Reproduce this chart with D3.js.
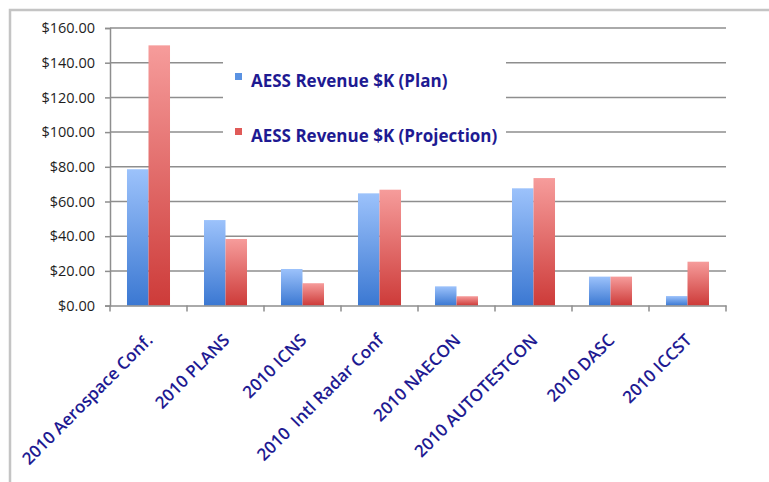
<!DOCTYPE html>
<html>
<head>
  <meta charset="utf-8">
  <title>AESS Revenue</title>
  <script src="https://cdn.jsdelivr.net/npm/d3@7"></script>
  <style>
    body { margin: 0; background: #fff; }
    text { font-family: "Open Sans", "Liberation Sans", sans-serif; }
  </style>
</head>
<body>
<script>
  var width = 769;
  var height = 482;

  var categories = ["2010 Aerospace Conf.", "2010 PLANS", "2010 ICNS", "2010  Intl Radar Conf",
    "2010 NAECON", "2010 AUTOTESTCON", "2010 DASC", "2010 ICCST"];
  var seriesNames = ["AESS Revenue $K (Plan)", "AESS Revenue $K (Projection)"];
  var plan = [78.6, 49.3, 21.1, 64.7, 11.1, 67.6, 16.7, 5.5];
  var projection = [150.0, 38.4, 12.9, 66.8, 5.4, 73.5, 16.7, 25.3];
  var yTicks = [0, 20, 40, 60, 80, 100, 120, 140, 160];

  var svg = d3.select("body")
    .append("svg")
    .attr("width", width)
    .attr("height", height);

  // gradients for bars
  var defs = svg.append("defs");
  function grad(id, top, bottom) {
    var g = defs.append("linearGradient").attr("id", id)
      .attr("x1", 0).attr("y1", 0).attr("x2", 0).attr("y2", 1);
    g.append("stop").attr("offset", "0%").attr("stop-color", top);
    g.append("stop").attr("offset", "100%").attr("stop-color", bottom);
  }
  grad("gBlue", "#9cc2fb", "#3b78d2");
  grad("gRed", "#f69c9b", "#cd3b39");
  var fills = ["url(#gBlue)", "url(#gRed)"];
  var swatch = ["#5a92e2", "#e05a58"];

  // outer frame (open at right and bottom)
  svg.append("path")
    .attr("d", "M10," + height + "V10H" + width)
    .attr("fill", "none")
    .attr("stroke", "#c4c4c4")
    .attr("stroke-width", 2.5);

  var xScale = d3.scaleBand()
    .domain(categories)
    .range([110, 726]);

  var xSub = d3.scaleBand()
    .domain(d3.range(seriesNames.length))
    .range([0, xScale.bandwidth()])
    .paddingOuter(0.79);

  var yScale = d3.scaleLinear()
    .domain([0, 160])
    .range([305.6, 28]);

  // gridlines
  svg.append("g")
    .selectAll("line")
    .data(yTicks.slice(1))
    .enter()
    .append("line")
    .attr("x1", 110)
    .attr("x2", 726)
    .attr("y1", function(d) { return yScale(d); })
    .attr("y2", function(d) { return yScale(d); })
    .attr("stroke", "#8e8e8e")
    .attr("stroke-width", 1.5);

  // y axis
  var yAxis = svg.append("g")
    .attr("transform", "translate(110,0)")
    .call(d3.axisLeft(yScale).tickValues(yTicks).tickSize(5).tickPadding(10)
      .tickFormat(function(d) { return "$" + d3.format(".2f")(d); }));
  yAxis.select(".domain").attr("stroke", "#8e8e8e").attr("stroke-width", 1.5);
  yAxis.selectAll(".tick line").attr("stroke", "#8e8e8e").attr("stroke-width", 1.5);
  yAxis.selectAll(".tick text")
    .attr("fill", "#1e1e1e")
    .style("font-size", "14.5px")
    .style("font-family", "'Open Sans', sans-serif");

  // bars
  var groups = svg.append("g")
    .selectAll("g")
    .data(categories)
    .enter()
    .append("g")
    .attr("transform", function(d) { return "translate(" + xScale(d) + ",0)"; });

  groups.selectAll("rect")
    .data(function(d, i) { return [plan[i], projection[i]]; })
    .enter()
    .append("rect")
    .attr("x", function(d, j) { return xSub(j); })
    .attr("y", function(d) { return yScale(d); })
    .attr("width", xSub.bandwidth())
    .attr("height", function(d) { return yScale(0) - yScale(d); })
    .attr("fill", function(d, j) { return fills[j]; });

  // x axis
  var xAxis = svg.append("g")
    .attr("transform", "translate(0," + yScale(0) + ")")
    .call(d3.axisBottom(xScale).tickSize(0).tickFormat(""));
  xAxis.select(".domain").attr("stroke", "#8e8e8e").attr("stroke-width", 1.5);
  xAxis.selectAll(".tick").remove();
  var boundaries = categories.map(function(c) { return xScale(c); }).concat([xScale.range()[1]]);
  xAxis.selectAll("line.bt")
    .data(boundaries)
    .enter()
    .append("line")
    .attr("class", "bt")
    .attr("x1", function(d) { return d; })
    .attr("x2", function(d) { return d; })
    .attr("y1", 0)
    .attr("y2", 6)
    .attr("stroke", "#8e8e8e")
    .attr("stroke-width", 1.5);

  // category labels
  svg.append("g")
    .selectAll("text")
    .data(categories)
    .enter()
    .append("text")
    .attr("transform", function(d) {
      return "translate(" + (xScale(d) + xScale.bandwidth() / 2 + 1) + "," + 337 + ") rotate(-45)";
    })
    .attr("text-anchor", "end")
    .attr("dy", "0.35em")
    .attr("fill", "#1e1a92")
    .style("font-size", "17px")
    .style("font-weight", "600")
    .style("white-space", "pre")
    .text(function(d) { return d; });

  // legend
  var legend = svg.append("g");
  legend.append("rect")
    .attr("x", 223).attr("y", 50)
    .attr("width", 283).attr("height", 95)
    .attr("fill", "#fff");
  var items = legend.selectAll("g")
    .data(seriesNames)
    .enter()
    .append("g")
    .attr("transform", function(d, i) { return "translate(235," + (73 + i * 55) + ")"; });
  items.append("rect")
    .attr("width", 7).attr("height", 7)
    .attr("fill", function(d, i) { return swatch[i]; });
  items.append("text")
    .attr("x", 16)
    .attr("y", 14)
    .attr("fill", "#1e1a92")
    .style("font-size", "17px")
    .style("font-weight", "700")
    .text(function(d) { return d; });
</script>
</body>
</html>
